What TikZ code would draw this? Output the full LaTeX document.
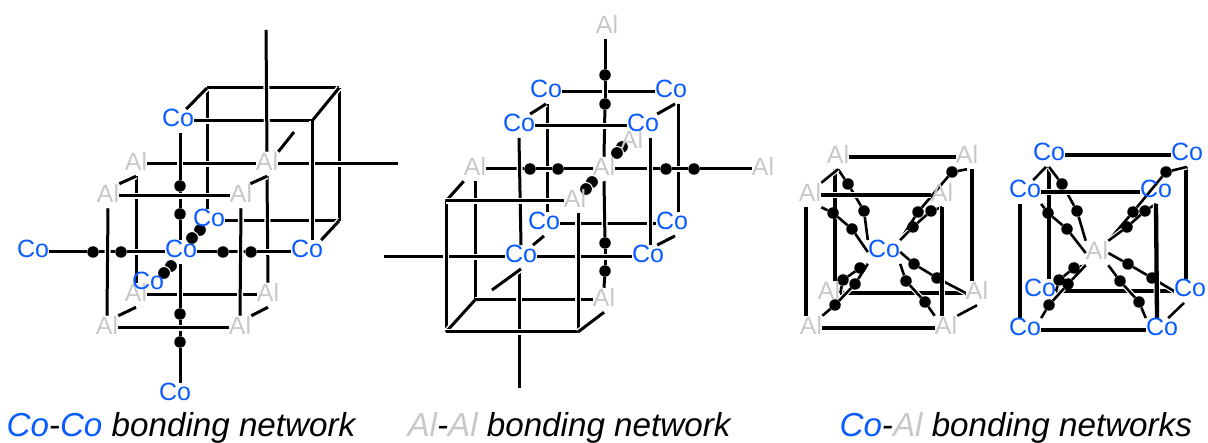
\documentclass[tikz,border=0pt]{standalone}
\usepackage{fontspec}
\setmainfont{Liberation Sans}
\usepackage{xcolor}
\usepackage{tikz}
\usetikzlibrary{calc,positioning}
\definecolor{cocol}{HTML}{0B5CFF}
\definecolor{alcol}{HTML}{C8C8C8}
\pgfdeclarelayer{labels}
\pgfsetlayers{main,labels}
\tikzset{
    atomlab/.style={inner sep=0pt, text depth=6pt, font=\fontsize{25}{30}\selectfont},
    coat/.style={atomlab, text=cocol},
    alat/.style={atomlab, text=alcol},
    bdot/.style={circle, fill=black, inner sep=0pt, minimum size=11.5pt},
    bdotw/.style={bdot, draw=white, line width=1pt, minimum size=13pt},
    bond/.style={line width=3pt, preaction={draw=white, line width=6pt}},
    cube/.style={line width=4.3pt, preaction={draw=white, line width=6.5pt}},
    thin bond/.style={line width=2.6pt, preaction={draw=white, line width=5pt}},
    caption/.style={anchor=base west, font=\fontsize{33.2}{38}\selectfont\itshape}
}
\begin{document}
\begin{tikzpicture}[x=1pt, y=-1pt]
    \useasboundingbox (0,0) rectangle (1208,443);
    % Co-Co network
    \begin{pgfonlayer}{labels}
    \node[bdot] (d1) at (180,186) {};
    \node[bdot] (d2) at (180,214) {};
    \node[bdot] (d3) at (180,314) {};
    \node[bdot] (d4) at (180,342) {};
    \node[bdot] (d5) at (93,252) {};
    \node[bdot] (d6) at (121,252) {};
    \node[bdot] (d7) at (223,252) {};
    \node[bdot] (d8) at (251,252) {};
    \node[bdotw] (d9) at (200,230) {};
    \node[bdotw] (d10) at (192,238) {};
    \node[bdotw] (d11) at (171,266) {};
    \node[bdotw] (d12) at (164,273) {};
    \node[alat] (a1) at (136,164) {Al};
    \node[alat] (a2) at (267,164) {Al};
    \node[alat] (a3) at (108,196) {Al};
    \node[alat] (a4) at (241,196) {Al};
    \node[alat] (a5) at (136,295) {Al};
    \node[alat] (a6) at (268,295) {Al};
    \node[alat] (a7) at (107,328) {Al};
    \node[alat] (a8) at (240,328) {Al};
    \node[coat] (c1) at (178,121) {Co};
    \node[coat] (c2) at (209,221) {Co};
    \node[coat] (c3) at (181,252) {Co};
    \node[coat] (c4) at (307,252) {Co};
    \node[coat] (c5) at (148,284) {Co};
    \node[coat] (c6) at (33,252) {Co};
    \node[coat] (c7) at (175,395) {Co};
    \end{pgfonlayer}
    \coordinate (b1) at (207,88);
    \coordinate (b2) at (339,88);
    \coordinate (b3) at (312,121);
    \coordinate (b4) at (339,221);
    \coordinate (t1) at (266,30);
    \coordinate (r1) at (398,164);
    \coordinate (k1) at (294,132);
    \draw[bond] (b1) -- (c2.north -| b1);
    \draw[bond] (b2) -- (b4);
    \draw[bond] (c2.east) -- (b4);
    \draw[bond] (b1) -- (b2);
    \draw[bond] ([xshift=-8pt]c1.north east) -- (b1);
    \draw[bond] (b2) -- (b3);
    \draw[bond] (c1.east) -- (b3);
    \draw[bond] (b4) -- ([xshift=-2pt]c4.north east);
    \draw[bond] (t1) -- (a2.north);
    \draw[bond] (a2.south) -- (a6.north);
    \draw[bond] (a2.north east) -- (k1);
    \draw[bond] (a1.east) -- (a2.west);
    \draw[bond] (a2.east) -- (r1);
    \draw[bond] (b3) -- (c4.north -| b3);
    \draw[bond] (a1.south) -- (a5.north);
    \draw[bond] (a5.east) -- (a6.west);
    \draw[bond] (c1.south -| d1) -- (d1);
    \draw[bond] (d1) -- (d2);
    \draw[bond] (d2) -- (c3.north -| d2);
    \draw[bond] (c3.south -| d3) -- (d3);
    \draw[bond] (d3) -- (d4);
    \draw[bond] (d4) -- (c7.north -| d4);
    \draw[bond] (c6) -- (d5);
    \draw[bond] (d5) -- (d6);
    \draw[bond] (d6) -- (c3);
    \draw[bond] (c3) -- (d7);
    \draw[bond] (d7) -- (d8);
    \draw[bond] (d8) -- (c4);
    \draw[bond] (a3.north east) -- (a1.south);
    \draw[bond] (a3.east) -- (a4.west);
    \draw[bond] ([xshift=-2pt]a4.north east) -- (a2.south);
    \draw[bond] (a7.east) -- (a8.west);
    \draw[bond] (a3.south) -- (a7.north);
    \draw[bond] (a4.south) -- (a8.north);
    \draw[bond] (a7.north east) -- (a5.south);
    \draw[bond] (a8.north east) -- (a6.south);
    % Al-Al network
    \begin{pgfonlayer}{labels}
    \node[bdot] (h1) at (605,75) {};
    \node[bdot] (h2) at (605,104) {};
    \node[bdot] (h3) at (605,243) {};
    \node[bdot] (h4) at (605,271) {};
    \node[bdot] (h5) at (530,169) {};
    \node[bdot] (h6) at (558,169) {};
    \node[bdot] (h7) at (666,169) {};
    \node[bdot] (h8) at (694,169) {};
    \node[bdotw] (h9) at (622,147) {};
    \node[bdotw] (h10) at (617,153) {};
    \node[bdotw] (h11) at (592,182) {};
    \node[bdotw] (h12) at (586,189) {};
    \node[alat] (e1) at (475,169) {Al};
    \node[alat] (e2) at (604,169) {Al};
    \node[alat] (e3) at (763,169) {Al};
    \node[alat] (e4) at (632,142) {Al};
    \node[alat] (e5) at (575,201) {Al};
    \node[alat] (e6) at (604,300) {Al};
    \node[alat] (e7) at (607,27) {Al};
    \node[coat] (f1) at (546,92) {Co};
    \node[coat] (f2) at (671,92) {Co};
    \node[coat] (f3) at (519,126) {Co};
    \node[coat] (f4) at (643,126) {Co};
    \node[coat] (f5) at (544,224) {Co};
    \node[coat] (f6) at (672,224) {Co};
    \node[coat] (f7) at (521,257) {Co};
    \node[coat] (f8) at (648,257) {Co};
    \end{pgfonlayer}
    \coordinate (g1) at (446,201);
    \coordinate (g2) at (446,332);
    \coordinate (g3) at (578,332);
    \coordinate (g4) at (475,300);
    \coordinate (g5) at (384,257);
    \coordinate (g6) at (519,388);
    \coordinate (g7) at (492,290);
    \draw[bond] (f1.east) -- (f2.west);
    \draw[bond] ([xshift=1pt]f1.south) -- ([xshift=3pt]f5.north);
    \draw[bond] ([xshift=7pt]f2.south) -- ([xshift=6pt]f6.north);
    \draw[bond] (f5.east) -- (f6.west);
    \draw[bond] (e1.east) -- (h5);
    \draw[bond] (h5) -- (h6);
    \draw[bond] (h6) -- (e2.west);
    \draw[bond] (e2.east) -- (h7);
    \draw[bond] (h7) -- (h8);
    \draw[bond] (h8) -- (e3.west);
    \draw[bond] (e7.south -| h1) -- (h1);
    \draw[bond] (h1) -- (h2);
    \draw[bond] (h2) -- (e2.north);
    \draw[bond] (e2.south) -- (h3);
    \draw[bond] (h3) -- (h4);
    \draw[bond] (h4) -- (e6.north);
    \draw[bond] ([xshift=-5pt]f3.north east) -- (f1.south);
    \draw[bond] ([xshift=-2pt]f4.north east) -- ([xshift=4pt]f2.south);
    \draw[bond] (f3.east) -- (f4.west);
    \draw[bond] ([xshift=7pt]f4.south) -- ([xshift=2pt]f8.north);
    \draw[bond] ([xshift=-7pt]f8.north east) -- ([xshift=3pt]f6.south);
    \draw[bond] (g4) -- (e1.south);
    \draw[bond] (g4) -- (e6.west);
    \draw[bond] (f3.south) -- (f7.north);
    \draw[bond] (f7.south -| g6) -- (g6);
    \draw[bond] (g5) -- (f7.west);
    \draw[bond] (f7.east) -- (f8.west);
    \draw[bond] (g7) -- (f7.south);
    \draw[bond] ([xshift=12pt]f7.north) -- (f5.south);
    \draw[bond] (g1) -- (e1.south west);
    \draw[bond] (g1) -- (g2);
    \draw[bond] (g2) -- (g4);
    \draw[bond] (g1) -- (e5.west);
    \draw[bond] (e5.south -| g3) -- (g3);
    \draw[bond] (g2) -- (g3);
    \draw[bond] (g3) -- (e6.south);
    \draw[bond] (e2.north east) -- (e4.south west);
    \draw[bond] (e5.north east) -- (e2.south west);
    % Co-Al network, Co at the centre
    \begin{pgfonlayer}{labels}
    \node[bdot] (n1) at (848,184) {};
    \node[bdot] (n2) at (864,211) {};
    \node[bdot] (n3) at (833,213) {};
    \node[bdot] (n4) at (852,229) {};
    \node[bdot] (n5) at (952,172) {};
    \node[bdot] (n6) at (918,212) {};
    \node[bdot] (n7) at (931,211) {};
    \node[bdot] (n8) at (913,227) {};
    \node[bdot] (n9) at (843,280) {};
    \node[bdot] (n10) at (860,268) {};
    \node[bdot] (n11) at (835,305) {};
    \node[bdot] (n12) at (855,284) {};
    \node[bdot] (n13) at (914,264) {};
    \node[bdot] (n14) at (937,278) {};
    \node[bdot] (n15) at (906,281) {};
    \node[bdot] (n16) at (925,302) {};
    \node[alat] (m1) at (838,157) {Al};
    \node[alat] (m2) at (967,157) {Al};
    \node[alat] (m3) at (810,195) {Al};
    \node[alat] (m4) at (942,195) {Al};
    \node[alat] (m5) at (829,293) {Al};
    \node[alat] (m6) at (977,293) {Al};
    \node[alat] (m7) at (811,328) {Al};
    \node[alat] (m8) at (946,328) {Al};
    \node[coat] (m9) at (884,252) {Co};
    \end{pgfonlayer}
    \draw[cube] (m1.east) -- (m2.west);
    \draw[cube] ([xshift=-3pt]m1.south) -- ([xshift=6pt]m5.north);
    \draw[cube] ([xshift=5pt]m2.south) -- ([xshift=-5pt]m6.north);
    \draw[cube] (m5.east) -- (m6.west);
    \draw[thin bond] (m1.south) -- (n1);
    \draw[thin bond] (n1) -- (n2);
    \draw[thin bond] (n2) -- (m9.north west);
    \draw[thin bond] (m2.south) -- (n5);
    \draw[thin bond] (n5) -- (n6);
    \draw[thin bond] (n6) -- (m9.north east);
    \draw[thin bond] (m5.east) -- (n9);
    \draw[thin bond] (n9) -- (n10);
    \draw[thin bond] (n10) -- (m9.south west);
    \draw[thin bond] (m6.west) -- (n14);
    \draw[thin bond] (n14) -- (n13);
    \draw[thin bond] (n13) -- (m9.east);
    \draw[thin bond] (m3.north east) -- (m1.south);
    \draw[thin bond] (m8.north east) -- (m6.south);
    \draw[thin bond] (m3.south east) -- (n3);
    \draw[thin bond] (n3) -- (n4);
    \draw[thin bond] (n4) -- (m9.west);
    \draw[thin bond] (m4.south) -- (n7);
    \draw[thin bond] (n7) -- (n8);
    \draw[thin bond] (n8) -- (m9.north east);
    \draw[thin bond] (m7.north east) -- (n11);
    \draw[thin bond] (n11) -- (n12);
    \draw[thin bond] (n12) -- (m9.south west);
    \draw[thin bond] (m8.north west) -- (n16);
    \draw[thin bond] (n16) -- (n15);
    \draw[thin bond] (n15) -- (m9.south east);
    \draw[cube] (m3.east) -- (m4.west);
    \draw[cube] ([xshift=-4pt]m3.south) -- ([xshift=-5pt]m7.north);
    \draw[cube] (m4.south) -- ([xshift=-4pt]m8.north);
    \draw[cube] (m7.east) -- (m8.west);
    % Co-Al network, Al at the centre
    \begin{pgfonlayer}{labels}
    \node[bdot] (q1) at (1062,184) {};
    \node[bdot] (q2) at (1077,211) {};
    \node[bdot] (q3) at (1048,213) {};
    \node[bdot] (q4) at (1067,229) {};
    \node[bdot] (q5) at (1166,172) {};
    \node[bdot] (q6) at (1133,212) {};
    \node[bdot] (q7) at (1145,211) {};
    \node[bdot] (q8) at (1127,227) {};
    \node[bdot] (q9) at (1059,280) {};
    \node[bdot] (q10) at (1074,268) {};
    \node[bdot] (q11) at (1049,305) {};
    \node[bdot] (q12) at (1068,284) {};
    \node[bdot] (q13) at (1128,264) {};
    \node[bdot] (q14) at (1152,278) {};
    \node[bdot] (q15) at (1120,281) {};
    \node[bdot] (q16) at (1139,302) {};
    \node[coat] (p1) at (1049,155) {Co};
    \node[coat] (p2) at (1187,155) {Co};
    \node[coat] (p3) at (1025,192) {Co};
    \node[coat] (p4) at (1156,192) {Co};
    \node[coat] (p5) at (1040,291) {Co};
    \node[coat] (p6) at (1190,291) {Co};
    \node[coat] (p7) at (1025,330) {Co};
    \node[coat] (p8) at (1162,330) {Co};
    \node[alat] (p9) at (1097,253) {Al};
    \end{pgfonlayer}
    \draw[cube] (p1.east) -- (p2.west);
    \draw[cube] (p1.south) -- ([xshift=9pt]p5.north);
    \draw[cube] ([xshift=-1pt]p2.south) -- ([xshift=-4pt]p6.north);
    \draw[cube] (p5.east) -- (p6.west);
    \draw[thin bond] (p1.south) -- (q1);
    \draw[thin bond] (q1) -- (q2);
    \draw[thin bond] (q2) -- (p9.north west);
    \draw[thin bond] (p2.south) -- (q5);
    \draw[thin bond] (q5) -- (q6);
    \draw[thin bond] (q6) -- (p9.north east);
    \draw[thin bond] (p5.east) -- (q9);
    \draw[thin bond] (q9) -- (q10);
    \draw[thin bond] (q10) -- (p9.south west);
    \draw[thin bond] (p6.west) -- (q14);
    \draw[thin bond] (q14) -- (q13);
    \draw[thin bond] (q13) -- (p9.east);
    \draw[thin bond] ([xshift=-8pt]p3.north east) -- ([xshift=-3pt]p1.south);
    \draw[thin bond] ([xshift=-10pt]p8.north east) -- ([xshift=-6pt]p6.south);
    \draw[thin bond] (p3.south east) -- (q3);
    \draw[thin bond] (q3) -- (q4);
    \draw[thin bond] (q4) -- (p9.west);
    \draw[thin bond] (p4.south) -- (q7);
    \draw[thin bond] (q7) -- (q8);
    \draw[thin bond] (q8) -- (p9.north east);
    \draw[thin bond] (p7.north east) -- (q11);
    \draw[thin bond] (q11) -- (q12);
    \draw[thin bond] (q12) -- (p9.south west);
    \draw[thin bond] (p8.north west) -- (q16);
    \draw[thin bond] (q16) -- (q15);
    \draw[thin bond] (q15) -- (p9.south east);
    \draw[cube] (p3.east) -- (p4.west);
    \draw[cube] ([xshift=-5pt]p3.south) -- ([xshift=-5pt]p7.north);
    \draw[cube] (p4.south) -- ([xshift=-5pt]p8.north);
    \draw[cube] (p7.east) -- (p8.west);
    % captions
    \node[caption] (t1a) at (3,437) {\textcolor{cocol}{Co}-\textcolor{cocol}{Co} bonding network};
    \node[caption] (t2a) at (404,437) {\textcolor{alcol}{Al}-\textcolor{alcol}{Al} bonding network};
    \node[caption] (t3a) at (836,437) {\textcolor{cocol}{Co}-\textcolor{alcol}{Al} bonding networks};
\end{tikzpicture}
\end{document}
